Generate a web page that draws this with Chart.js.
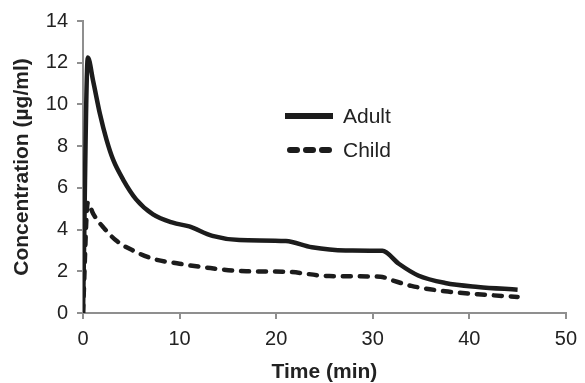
<!DOCTYPE html>
<html>
<head>
<meta charset="utf-8">
<script src="https://cdn.jsdelivr.net/npm/chart.js@4/dist/chart.umd.min.js"></script>
<style>
  html, body { margin: 0; padding: 0; background: #fff; }
  #wrap { width: 585px; height: 383px; }
</style>
</head>
<body>
<div id="wrap"><canvas id="c"></canvas></div>
<script>
// values
const adultTime = [0, 0.5, 1.06, 1.75, 2.44, 3.12, 4.15, 5.5, 7.25, 9.3, 11, 13.4, 16.2, 21, 23.7, 27.2, 31, 32.7, 34.7, 37.5, 40.9, 45]
const adultConc = [0, 12.25, 11.1, 9.55, 8.3, 7.35, 6.4, 5.45, 4.73, 4.33, 4.15, 3.7, 3.5, 3.45, 3.15, 3.0, 2.98, 2.36, 1.8, 1.44, 1.25, 1.12]

const childTime = [0, 0.5, 1.06, 2.27, 3.47, 5.2, 7.25, 10, 12.4, 16.9, 21, 25.5, 30.8, 32, 34, 37.5, 40.9, 45]
const childConc = [0, 5.3, 4.75, 4.02, 3.46, 2.99, 2.6, 2.36, 2.2, 2.0, 1.98, 1.77, 1.74, 1.57, 1.3, 1.04, 0.9, 0.77]

const xTicks = [0, 10, 20, 30, 40, 50]
const yTicks = [0, 2, 4, 6, 8, 10, 12, 14]

const seriesNames = ['Adult', 'Child']

function toPoints(xs, ys){
  return xs.map((x, i) => ({x: x, y: ys[i]}))
}

const axisGray = '#8f8f8f'
const lineColor = '#1c1c1c'
const fontFam = '"Liberation Sans", Arial, Helvetica, sans-serif'

// legend sits inside the plot, to the right of the peak
const insideLegend = {
  id: 'insideLegend',
  afterDraw(chart){
    const ctx = chart.ctx
    const rows = [
      {y: 116, ds: chart.data.datasets[0], x0: 285, x1: 333, dash: [], cap: 'butt'},
      {y: 150, ds: chart.data.datasets[1], x0: 290, x1: 329, dash: [7, 9], cap: 'round'}
    ]
    ctx.save()
    rows.forEach(r => {
      ctx.strokeStyle = r.ds.borderColor
      ctx.lineWidth = 6
      ctx.lineCap = r.cap
      ctx.setLineDash(r.dash)
      ctx.beginPath()
      ctx.moveTo(r.x0, r.y)
      ctx.lineTo(r.x1, r.y)
      ctx.stroke()
      ctx.setLineDash([])
      ctx.fillStyle = '#222'
      ctx.font = '21px ' + fontFam
      ctx.textBaseline = 'middle'
      ctx.fillText(r.ds.label, 343, r.y + 1)
    })
    ctx.restore()
  }
}

new Chart(document.getElementById('c'), {
  type: 'line',
  data: {
    datasets: [
      {
        label: seriesNames[0],
        data: toPoints(adultTime, adultConc),
        borderColor: lineColor,
        borderWidth: 4.5,
        pointRadius: 0,
        cubicInterpolationMode: 'monotone'
      },
      {
        label: seriesNames[1],
        data: toPoints(childTime, childConc),
        borderColor: lineColor,
        borderWidth: 4.5,
        borderDash: [8, 9],
        borderCapStyle: 'round',
        pointRadius: 0,
        cubicInterpolationMode: 'monotone'
      }
    ]
  },
  options: {
    responsive: true,
    maintainAspectRatio: false,
    animation: false,
    layout: { padding: { top: 18, right: 17, left: 0, bottom: 0 } },
    plugins: {
      legend: { display: false },
      tooltip: { enabled: false }
    },
    scales: {
      x: {
        type: 'linear',
        min: 0, max: 50,
        afterBuildTicks: s => { s.ticks = xTicks.map(v => ({value: v})) },
        afterFit: s => { s.height = 70 },
        border: { color: axisGray, width: 2 },
        grid: { drawOnChartArea: false, drawTicks: true, tickLength: 6, color: axisGray, lineWidth: 2 },
        ticks: { color: '#222', font: { size: 20, family: fontFam }, padding: 8, maxRotation: 0 },
        title: { display: true, text: 'Time (min)', color: '#222', font: { size: 21, weight: 'bold', family: fontFam }, padding: { top: 0, bottom: -2 } }
      },
      y: {
        min: 0, max: 14,
        afterBuildTicks: s => { s.ticks = yTicks.map(v => ({value: v})) },
        afterFit: s => { s.width = 83 },
        border: { color: axisGray, width: 2 },
        grid: { drawOnChartArea: false, drawTicks: true, tickLength: 6, color: axisGray, lineWidth: 2 },
        ticks: { color: '#222', font: { size: 20, family: fontFam }, padding: 9 },
        title: { display: true, text: 'Concentration (µg/ml)', color: '#222', font: { size: 21, weight: 'bold', family: fontFam }, padding: { top: 10, bottom: 0 } }
      }
    }
  },
  plugins: [insideLegend]
})
</script>
</body>
</html>
